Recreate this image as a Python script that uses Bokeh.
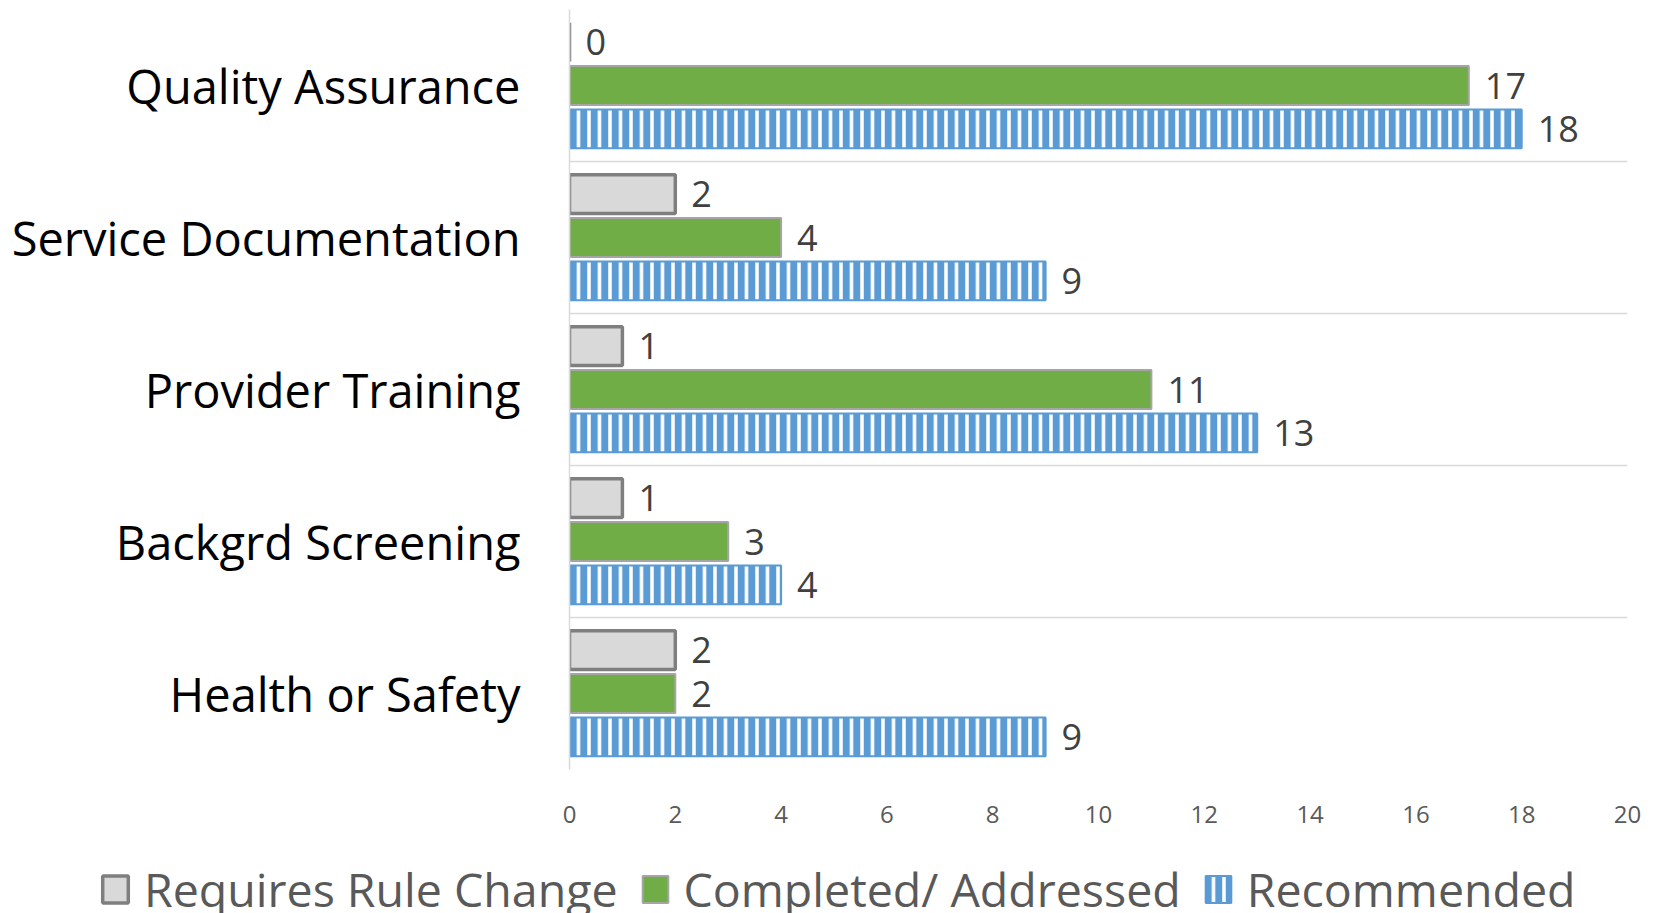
from bokeh.plotting import figure
from bokeh.layouts import column, row
from bokeh.models import FixedTicker, Legend, LegendItem, ColumnDataSource
from bokeh.transform import dodge
from bokeh.embed import file_html
from bokeh.resources import INLINE

categories = ["Quality Assurance", "Service Documentation", "Provider Training",
              "Backgrd Screening", "Health or Safety"]
rule_change = [0, 2, 1, 1, 2]
completed = [17, 4, 11, 3, 2]
recommended = [18, 9, 13, 4, 9]
x_ticks = [0, 2, 4, 6, 8, 10, 12, 14, 16, 18, 20]
series_names = ["Requires Rule Change", "Completed/ Addressed", "Recommended"]

n = len(categories)
ypos = [n - i - 0.5 for i in range(n)]
src = ColumnDataSource(dict(y=ypos, rule=rule_change, comp=completed, rec=recommended,
                            rule_t=[str(v) for v in rule_change],
                            comp_t=[str(v) for v in completed],
                            rec_t=[str(v) for v in recommended]))

FONT = "Open Sans"
GRAY = dict(fill_color="#D9D9D9", line_color="#7F7F7F", line_width=3.5)
GREEN = dict(fill_color="#70AD47", line_color="#A5A5A5", line_width=2)
BLUE = dict(fill_color="white", line_color="#5B9BD5", line_width=2,
            hatch_pattern="vertical_line", hatch_color="#5B9BD5",
            hatch_weight=7, hatch_scale=10.5)

p = figure(width=1650, height=862, x_range=(0, 20), y_range=(0, n),
           output_backend="svg", toolbar_location=None,
           min_border_left=569, min_border_right=23, min_border_top=9, min_border_bottom=93)
p.outline_line_color = None
p.background_fill_color = "white"

step = 0.286
h = 0.255
p.hbar(y=dodge("y", step), right="rule", left=0, height=h, source=src, **GRAY)
p.hbar(y=dodge("y", 0), right="comp", left=0, height=h, source=src, **GREEN)
p.hbar(y=dodge("y", -step), right="rec", left=0, height=h, source=src, **BLUE)

for col, d in (("rule", step), ("comp", 0), ("rec", -step)):
    p.text(x=col, y=dodge("y", d), text=col + "_t", source=src, x_offset=16, y_offset=0,
           text_align="left", text_baseline="middle", text_font_size="36px",
           text_color="#404040", text_font={"value": FONT})

# axes
p.xaxis.ticker = FixedTicker(ticks=x_ticks)
p.xaxis.axis_line_color = None
p.xaxis.major_tick_line_color = None
p.xaxis.minor_tick_line_color = None
p.xaxis.major_label_text_font = FONT
p.xaxis.major_label_text_font_size = "24px"
p.xaxis.major_label_text_color = "#595959"
p.xaxis.major_label_standoff = 30

p.yaxis.ticker = FixedTicker(ticks=ypos)
p.yaxis.major_label_overrides = {y: c for y, c in zip(ypos, categories)}
p.yaxis.axis_line_color = "#D9D9D9"
p.yaxis.axis_line_width = 1.5
p.yaxis.major_tick_line_color = None
p.yaxis.minor_tick_line_color = None
p.yaxis.major_label_text_font = FONT
p.yaxis.major_label_text_font_size = "47px"
p.yaxis.major_label_text_color = "black"
p.yaxis.major_label_standoff = 43

p.xgrid.grid_line_color = None
p.ygrid.ticker = FixedTicker(ticks=list(range(n + 1)))
p.ygrid.grid_line_color = "#D9D9D9"
p.ygrid.grid_line_width = 1.5

# legend strip (its own figure, so the legend can start left of the bars)
pl = figure(width=1650, height=51, x_range=(0, 1), y_range=(0, 1),
            output_backend="svg", toolbar_location=None,
            x_axis_type=None, y_axis_type=None,
            min_border_left=0, min_border_right=0, min_border_top=0, min_border_bottom=0)
pl.outline_line_color = None
pl.background_fill_color = "white"
pl.xgrid.grid_line_color = None
pl.ygrid.grid_line_color = None
swatch = ColumnDataSource(dict(y=[-10], r=[0]))
l1 = pl.hbar(y="y", right="r", left=0, height=0.5, source=swatch, **GRAY)
l2 = pl.hbar(y="y", right="r", left=0, height=0.5, source=swatch, **GREEN)
l3 = pl.hbar(y="y", right="r", left=0, height=0.5, source=swatch, **BLUE)

legend = Legend(items=[LegendItem(label=series_names[0], renderers=[l1]),
                       LegendItem(label=series_names[1], renderers=[l2]),
                       LegendItem(label=series_names[2], renderers=[l3])],
                orientation="horizontal", location=(99, -8),
                label_text_font=FONT, label_text_font_size="46.5px",
                label_text_color="#595959", glyph_width=32, glyph_height=34,
                label_standoff=13, spacing=21, padding=0, margin=0,
                border_line_color=None, background_fill_alpha=0)
pl.add_layout(legend, "center")

layout = column(p, row(pl), spacing=0)
open("out.html", "w").write(file_html(layout, INLINE))
